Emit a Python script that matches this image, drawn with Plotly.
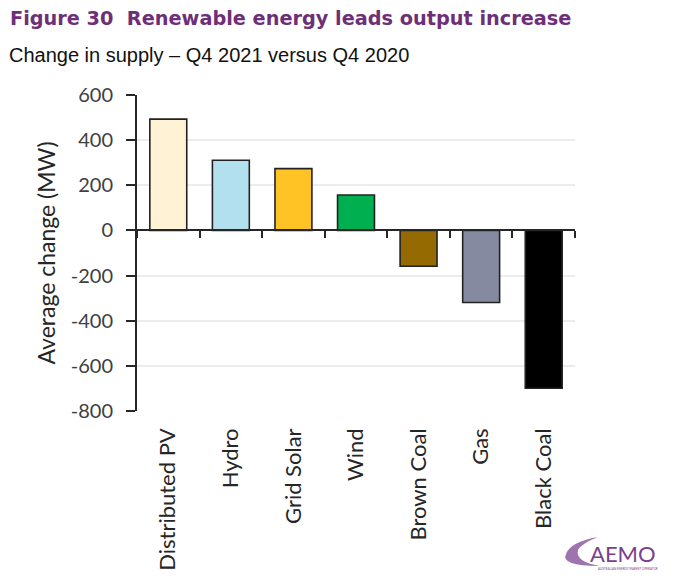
import plotly.graph_objects as go

categories = ["Distributed PV", "Hydro", "Grid Solar", "Wind", "Brown Coal", "Gas", "Black Coal"]
values = [493, 311, 274, 157, -159, -319, -699]
colors = ["#FFF2D5", "#B3E0EE", "#FFC325", "#00B050", "#956A00", "#868AA0", "#000000"]
y_ticks = [600, 400, 200, 0, -200, -400, -600, -800]
y_ticktext = ["600", "400", "200", "0", "-200", "-400", "-600", "-800"]

FONT = "Lato"
TEXT_COL = "#404040"

OFF = 8  # page body margin in the browser
W, H = 680, 583
# target plot area in window pixels
L, R, T, B = 137, 575, 95, 411
l, r, t, b = L - OFF, R - OFF, T - OFF, B - OFF


def px(x, y):
    x -= OFF
    y -= OFF
    return (x - l) / (r - l), (b - y) / (b - t)


fig = go.Figure()
fig.add_trace(go.Bar(
    x=categories, y=values,
    marker=dict(color=colors, line=dict(color="#222222", width=1.6)),
    width=0.59, hoverinfo="x+y", showlegend=False,
))
fig.add_trace(go.Scatter(
    x=categories, y=values, xaxis="x2", mode="markers",
    marker=dict(opacity=0), hoverinfo="skip", showlegend=False,
))

ymin, ymax = -800, 600
zero_pos = (0 - ymin) / (ymax - ymin)

fig.update_layout(
    width=W, height=H,
    margin=dict(l=l, r=W - r, t=t, b=H - b),
    paper_bgcolor="white", plot_bgcolor="white",
    font=dict(family=FONT, color=TEXT_COL, size=18),
    xaxis=dict(
        type="category", categoryarray=categories, range=[-0.5, 6.5],
        showline=False, showgrid=False, zeroline=False, ticks="",
        tickangle=-90, ticklabelstandoff=12, automargin=False,
        tickfont=dict(family=FONT, size=22, color="#262626"),
    ),
    xaxis2=dict(
        type="category", categoryarray=categories, range=[-0.5, 6.5],
        overlaying="x", anchor="free", position=zero_pos,
        showline=True, linecolor="#262626", linewidth=2,
        ticks="outside", tickson="boundaries", ticklen=7, tickwidth=2, tickcolor="#262626",
        showticklabels=False, showgrid=False, zeroline=False,
    ),
    yaxis=dict(
        range=[ymin, ymax], tickmode="array", tickvals=y_ticks, ticktext=y_ticktext,
        showline=True, linecolor="#262626", linewidth=2,
        ticks="outside", ticklen=9, tickwidth=2, tickcolor="#262626",
        showgrid=True, gridcolor="#ECECEC", gridwidth=1.5,
        zeroline=False, ticklabelstandoff=9, automargin=False,
        tickfont=dict(family=FONT, size=20, color=TEXT_COL),
        title=dict(text="Average change (MW)", font=dict(family=FONT, size=23, color="#262626"), standoff=9),
    ),
)

x0, y0 = px(8, 18)
fig.add_annotation(text="<b>Figure 30  Renewable energy leads output increase</b>",
                   xref="paper", yref="paper", x=x0, y=y0,
                   xanchor="left", yanchor="middle", showarrow=False,
                   font=dict(family="DejaVu Sans", size=19.3, color="#6E2F78"))
x0, y0 = px(7, 55)
fig.add_annotation(text="Change in supply – Q4 2021 versus Q4 2020",
                   xref="paper", yref="paper", x=x0, y=y0,
                   xanchor="left", yanchor="middle", showarrow=False,
                   font=dict(family="Liberation Sans", size=20, color="#111111"))
x0, y0 = px(658, 553)
fig.add_annotation(text="AEMO",
                   xref="paper", yref="paper", x=x0, y=y0,
                   xanchor="right", yanchor="middle", showarrow=False,
                   font=dict(family="Lato", size=22, color="#7B3F8C"))
x0, y0 = px(660, 569)
fig.add_annotation(text="AUSTRALIAN ENERGY MARKET OPERATOR",
                   xref="paper", yref="paper", x=x0, y=y0,
                   xanchor="right", yanchor="middle", showarrow=False,
                   font=dict(family="Lato", size=3, color="#7B3F8C"))


def p(x, y):
    a, c = px(x, y)
    return f"{a:.4f},{c:.4f}"


# logo swoosh
path = "M " + p(598, 537)
path += " Q " + p(570, 542) + " " + p(566, 554)
path += " Q " + p(560, 566) + " " + p(600, 566)
path += " Q " + p(575, 562) + " " + p(578, 550)
path += " Q " + p(582, 543) + " " + p(598, 537) + " Z"
fig.add_shape(type="path", path=path, xref="paper", yref="paper",
              fillcolor="#8E5AA0", line=dict(width=0), opacity=0.85)

fig.write_html("out.html")
